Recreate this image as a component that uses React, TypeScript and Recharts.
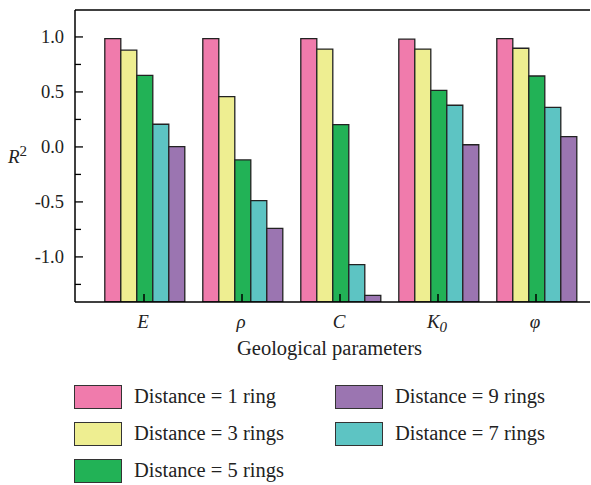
import { BarChart, Bar, XAxis, YAxis, Legend, ReferenceLine } from 'recharts';

const categories = ['E', 'ρ', 'C', 'K0', 'φ'];
const ring1 = [0.985, 0.985, 0.985, 0.98, 0.985];
const ring3 = [0.88, 0.457, 0.89, 0.89, 0.897];
const ring5 = [0.65, -0.118, 0.203, 0.515, 0.645];
const ring7 = [0.206, -0.488, -1.07, 0.379, 0.36];
const ring9 = [0.003, -0.74, -1.35, 0.02, 0.094];

const yTicks = [-1.25, -1, -0.75, -0.5, -0.25, 0, 0.25, 0.5, 0.75, 1];
const Y_MIN = -1.41;
const Y_MAX = 1.245;

const series = [
  { key: 'r1', name: 'Distance = 1 ring', color: '#F07BAC' },
  { key: 'r3', name: 'Distance = 3 rings', color: '#EEEE91' },
  { key: 'r5', name: 'Distance = 5 rings', color: '#22B256' },
  { key: 'r7', name: 'Distance = 7 rings', color: '#5DC4C3' },
  { key: 'r9', name: 'Distance = 9 rings', color: '#9B75B1' },
];

// legend order in the figure: two columns
const legendCols = [
  ['r1', 'r3', 'r5'],
  ['r9', 'r7'],
];

const data = categories.map((c, i) => ({
  cat: c,
  r1: ring1[i],
  r3: ring3[i],
  r5: ring5[i],
  r7: ring7[i],
  r9: ring9[i],
}));

const FONT = '"Liberation Serif", "DejaVu Serif", serif';

function XTick(props: any) {
  const { x, y, payload } = props;
  const v: string = payload.value;
  return (
    <g>
      <line x1={x} x2={x} y1={y} y2={y - 8} stroke="#000" strokeWidth={1.5} />
      <text x={x - 1} y={y + 26} textAnchor="middle" fontFamily={FONT} fontStyle="italic" fontSize={19} fill="#222">
        {v === 'K0' ? (
          <>
            K<tspan dy={4} fontSize={15}>0</tspan>
          </>
        ) : (
          v
        )}
      </text>
    </g>
  );
}

function YTick(props: any) {
  const { x, y, payload } = props;
  const v: number = payload.value;
  const major = Math.abs(v * 2 - Math.round(v * 2)) < 1e-6;
  return (
    <g>
      <line x1={x} x2={x + (major ? 8 : 6)} y1={y} y2={y} stroke="#000" strokeWidth={1.3} />
      {major && (
        <text x={x - 11} y={y} dy="0.35em" textAnchor="end" fontFamily={FONT} fontSize={18.5} fill="#222">
          {v.toFixed(1)}
        </text>
      )}
    </g>
  );
}

function LegendBox() {
  return (
    <div style={{ display: 'flex', fontFamily: FONT, fontSize: 20.5, color: '#222' }}>
      {legendCols.map((col, ci) => (
        <div key={ci} style={{ width: ci === 0 ? 261 : 240 }}>
          {col.map((k) => {
            const s = series.find((d) => d.key === k)!;
            return (
              <div key={k} style={{ display: 'flex', alignItems: 'center', height: 37 }}>
                <div
                  style={{
                    width: 46,
                    height: 22,
                    background: s.color,
                    border: '1.5px solid #333',
                    marginRight: 12,
                    flexShrink: 0,
                  }}
                />
                <span style={{ whiteSpace: 'nowrap' }}>{s.name}</span>
              </div>
            );
          })}
        </div>
      ))}
    </div>
  );
}

export default function App() {
  return (
    <div style={{ position: 'absolute', top: 0, left: 0, width: 591, height: 485, overflow: 'hidden', background: '#fff' }}>
      <BarChart
        width={591}
        height={485}
        data={data}
        margin={{ top: 10, right: 1, left: 15, bottom: 123 }}
        barCategoryGap="10%"
        barGap={0}
      >
        {series.map((s) => (
          <Bar
            key={s.key}
            dataKey={(d: any) => [Y_MIN, d[s.key]]}
            name={s.name}
            fill={s.color}
            stroke="#222"
            strokeWidth={1.3}
            isAnimationActive={false}
          />
        ))}
        <ReferenceLine y={Y_MAX} stroke="#000" strokeWidth={1.5} />
        <XAxis
          dataKey="cat"
          height={60}
          padding={{ left: 20, right: 5 }}
          axisLine={{ stroke: '#000', strokeWidth: 1.5 }}
          tickLine={false}
          tickSize={0}
          tickMargin={0}
          tick={<XTick />}
          interval={0}
          label={{
            content: (p: any) => {
              const vb = p.viewBox;
              return (
                <text x={vb.x + vb.width / 2 - 3} y={vb.y + 53} textAnchor="middle" fontFamily={FONT} fontSize={20.5} fill="#222">
                  Geological parameters
                </text>
              );
            },
          }}
        />
        <YAxis
          type="number"
          domain={[Y_MIN, Y_MAX]}
          ticks={yTicks}
          width={60}
          axisLine={{ stroke: '#000', strokeWidth: 1.5 }}
          tickLine={false}
          tickSize={0}
          tickMargin={0}
          tick={<YTick />}
          interval={0}
          allowDataOverflow
          label={{
            content: () => (
              <text x={8} y={163} fontFamily={FONT} fontStyle="italic" fontSize={19} fill="#222">
                R<tspan dy={-7} fontSize={15} fontStyle="normal">2</tspan>
              </text>
            ),
          }}
        />
        <Legend
          layout="horizontal"
          verticalAlign="middle"
          align="center"
          wrapperStyle={{ top: 378, left: 74, width: 510 }}
          content={() => <LegendBox />}
        />
      </BarChart>
    </div>
  );
}
